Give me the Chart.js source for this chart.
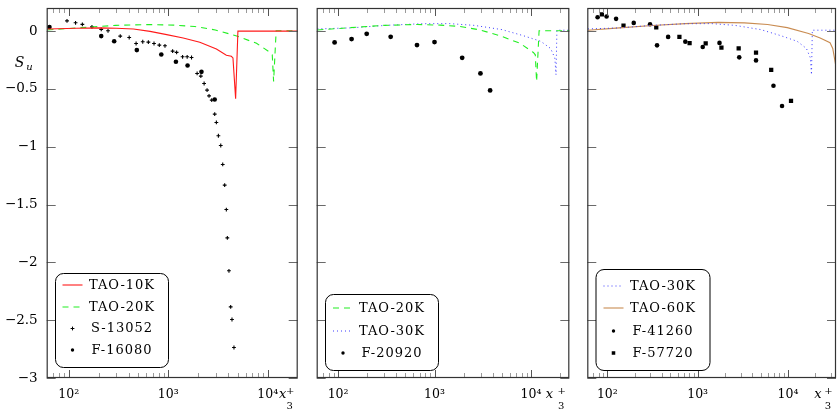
<!DOCTYPE html>
<html><head><meta charset="utf-8">
<script src="https://cdn.jsdelivr.net/npm/chart.js@4/dist/chart.umd.min.js"></script>
<style>
html,body{margin:0;padding:0;background:#fff;}
#wrap{position:relative;width:840px;height:413px;overflow:hidden;background:#fff;}
canvas{position:absolute;left:0;top:0;}
</style></head><body>
<div id="wrap">
<canvas id="c1" width="840" height="413"></canvas>
<canvas id="c2" width="840" height="413"></canvas>
<canvas id="c3" width="840" height="413"></canvas>
</div>
<script>
// ---------- tick labels ----------
const yTickValues = [-3, -2.5, -2, -1.5, -1, -0.5, 0];
const yTickLabels = ['\u22123', '\u22122.5', '\u22122', '\u22121.5', '\u22121', '\u22120.5', '0'];
const xTickValues = [100, 1000, 10000];
const xTickLabels = ['10\u00B2', '10\u00B3', '10\u2074'];

// ---------- series ----------
const tao10kX = [61, 120, 207, 300, 447, 656, 964, 1413, 2075, 3048, 3837, 4305, 4470, 4755, 5012, 20000];
const tao10kY = [0.019, 0.025, 0.028, 0.025, 0.019, -0.002, -0.03, -0.059, -0.097, -0.154, -0.209, -0.218, -0.232, -0.584, 0, 0];

const tao20kX = [61, 134, 297, 658, 1146, 1846, 2972, 4786, 7710, 10600, 11100, 11450, 12150, 35000];
const tao20kY = [0.01, 0.03, 0.05, 0.057, 0.052, 0.04, 0.01, -0.04, -0.105, -0.185, -0.205, -0.435, 0.003, 0.003];

const tao30kX = [61, 136, 315, 730, 1425, 2570, 5010, 8300, 12640, 16000, 17700, 18200, 18600, 35000];
const tao30kY = [0.019, 0.028, 0.05, 0.064, 0.065, 0.05, 0.013, -0.039, -0.088, -0.15, -0.232, -0.377, 0.008, 0.008];

const tao60kX = [61, 136, 315, 730, 1687, 3305, 5945, 9820, 16900, 22700, 29200, 31300, 34000];
const tao60kY = [0.007, 0.028, 0.048, 0.065, 0.076, 0.071, 0.057, 0.03, -0.02, -0.06, -0.1, -0.15, -0.31];

const s13052X = [96, 117, 137, 171, 212, 248, 329, 405, 475, 554, 631, 719, 813, 927, 1106, 1213, 1393, 1549, 1713, 1950, 2125, 2293, 2455, 2570, 2735, 2930, 3045, 3190, 3370, 3527, 3690, 3835, 3925, 4075, 4240, 4370, 4575];
const s13052Y = [0.089, 0.072, 0.058, 0.037, 0.015, 0.003, -0.043, -0.055, -0.107, -0.092, -0.095, -0.107, -0.121, -0.127, -0.173, -0.184, -0.222, -0.222, -0.228, -0.366, -0.389, -0.453, -0.51, -0.56, -0.597, -0.718, -0.79, -0.905, -0.989, -1.153, -1.332, -1.543, -1.788, -2.073, -2.385, -2.494, -2.736];

const f16080X = [64, 212, 286, 483, 851, 1194, 1563, 2157, 2930];
const f16080Y = [0.036, -0.043, -0.087, -0.164, -0.202, -0.265, -0.297, -0.352, -0.591];

const f20920X = [92, 138, 198, 351, 658, 1000, 1936, 2995, 3773];
const f20920Y = [-0.098, -0.069, -0.023, -0.049, -0.121, -0.095, -0.231, -0.366, -0.513];

const f41260X = [78, 98, 125, 196, 297, 355, 471, 730, 1138, 1745, 2886, 4426, 6905, 8590];
const f41260Y = [0.12, 0.126, 0.106, 0.071, 0.059, -0.123, -0.05, -0.091, -0.137, -0.102, -0.227, -0.253, -0.472, -0.648];

const f57720X = [87, 151, 348, 628, 814, 1227, 1833, 2844, 4426, 6518, 10800];
const f57720Y = [0.145, 0.048, 0.033, -0.05, -0.103, -0.106, -0.143, -0.149, -0.186, -0.336, -0.604];

// ---------- helpers ----------
function pts(xs, ys) { return xs.map((x, i) => ({x: x, y: ys[i]})); }

const SERIF = '"DejaVu Serif", serif';

function lineDs(label, xs, ys, color, dash, width) {
  return {label: label, data: pts(xs, ys), showLine: true, borderColor: color, backgroundColor: color,
    borderWidth: width, borderDash: dash, pointRadius: 0, pointHoverRadius: 0, tension: 0, fill: false};
}
function markDs(label, xs, ys, style, radius, legendRadius) {
  return {label: label, data: pts(xs, ys), showLine: false, pointStyle: style, pointRadius: radius,
    backgroundColor: '#000', borderColor: '#000', borderWidth: style === 'cross' ? 1.1 : 0,
    legendRadius: legendRadius};
}

const C_RED = '#ff1a1a', C_GREEN = '#22ee22', C_BLUE = '#3a3aff', C_BROWN = '#c98c52';

const framePlugin = {
  id: 'panelFrame',
  afterDatasetsDraw(chart, args, o) {
    const ctx = chart.ctx, a = chart.chartArea, x = chart.scales.x, y = chart.scales.y;
    ctx.save();
    // y ticks (inward, both sides)
    ctx.lineWidth = 1;
    ctx.strokeStyle = '#6a6a6a';
    ctx.beginPath();
    yTickValues.forEach(v => {
      const py = Math.round(y.getPixelForValue(v)) + 0.5;
      ctx.moveTo(a.left, py); ctx.lineTo(a.left + 9, py);
      ctx.moveTo(a.right, py); ctx.lineTo(a.right - 9, py);
    });
    ctx.stroke();
    // x minor ticks
    ctx.strokeStyle = '#9a9a9a';
    ctx.beginPath();
    [10, 100, 1000, 10000].forEach(d => {
      for (let m = 2; m <= 9; m++) {
        const v = m * d;
        if (v <= x.min || v >= x.max) continue;
        const px = Math.round(x.getPixelForValue(v)) + 0.5;
        ctx.moveTo(px, a.bottom); ctx.lineTo(px, a.bottom - 5);
        ctx.moveTo(px, a.top); ctx.lineTo(px, a.top + 5);
      }
    });
    ctx.stroke();
    // x major ticks
    ctx.strokeStyle = '#555';
    ctx.beginPath();
    xTickValues.forEach(v => {
      if (v <= x.min || v >= x.max) return;
      const px = Math.round(x.getPixelForValue(v)) + 0.5;
      ctx.moveTo(px, a.bottom); ctx.lineTo(px, a.bottom - 8);
      ctx.moveTo(px, a.top); ctx.lineTo(px, a.top + 8);
    });
    ctx.stroke();
    // frame
    ctx.strokeStyle = '#333';
    ctx.lineWidth = 1.2;
    ctx.strokeRect(a.left + 0.5, a.top + 0.5, a.right - a.left - 1, a.bottom - a.top - 1);

    // axis titles
    ctx.fillStyle = '#000';
    ctx.textAlign = 'center';
    ctx.textBaseline = 'middle';
    ctx.font = 'italic 13px ' + SERIF;
    ctx.fillText('x', a.right - o.xTitleOff, 395);
    ctx.font = '10px ' + SERIF;
    ctx.fillText('+', a.right - 7.5, 391);
    ctx.fillText('3', a.right - 8, 406);
    if (o.yTitle) {
      ctx.font = 'italic 14px ' + SERIF;
      ctx.fillText('S', 19.5, 63);
      ctx.font = 'italic 10px ' + SERIF;
      ctx.fillText('u', 29.5, 67);
    }

    // legend
    const L = o.legend;
    ctx.beginPath();
    ctx.roundRect(L.x + 0.5, L.y + 0.5, L.w, L.h, 8);
    ctx.fillStyle = '#fff';
    ctx.fill();
    ctx.strokeStyle = '#000';
    ctx.lineWidth = 1;
    ctx.stroke();
    chart.data.datasets.forEach((ds, i) => {
      const ry = L.rows[i];
      if (ds.showLine) {
        ctx.save();
        ctx.strokeStyle = ds.borderColor;
        ctx.lineWidth = ds.borderWidth;
        ctx.setLineDash(ds.borderDash || []);
        ctx.beginPath();
        ctx.moveTo(L.sx0, ry); ctx.lineTo(L.sx1, ry);
        ctx.stroke();
        ctx.restore();
      } else {
        ctx.save();
        ctx.fillStyle = '#000';
        ctx.strokeStyle = '#000';
        Chart.helpers.drawPoint(ctx, {pointStyle: ds.pointStyle, radius: ds.legendRadius,
          borderWidth: ds.borderWidth, rotation: 0}, (L.sx0 + L.sx1) / 2, ry);
        ctx.restore();
      }
      ctx.save();
      ctx.fillStyle = '#000';
      ctx.font = '13px ' + SERIF;
      if ('letterSpacing' in ctx) ctx.letterSpacing = '1px';
      ctx.textAlign = 'center';
      ctx.textBaseline = 'middle';
      ctx.fillText(ds.label, L.tx, ry + 0.5);
      ctx.restore();
    });
    ctx.restore();
  }
};

function makeChart(id, datasets, xmax, left, right, showY, xTitleOff, legend) {
  return new Chart(document.getElementById(id), {
    type: 'scatter',
    data: {datasets: datasets},
    plugins: [framePlugin],
    options: {
      responsive: false,
      animation: false,
      events: [],
      layout: {padding: {left: showY ? 0 : left, right: 840 - right, top: 8, bottom: 0}},
      plugins: {
        legend: {display: false},
        tooltip: {enabled: false},
        panelFrame: {legend: legend, yTitle: showY, xTitleOff: xTitleOff}
      },
      scales: {
        x: {
          type: 'logarithmic', min: 60, max: xmax,
          grid: {display: false, drawTicks: false},
          border: {display: false},
          afterBuildTicks: s => { s.ticks = xTickValues.map(v => ({value: v})); },
          afterFit: s => { s.height = 35; s.paddingLeft = 0; s.paddingRight = 0; },
          ticks: {
            autoSkip: false, maxRotation: 0, padding: 9, color: '#000',
            font: {family: SERIF, size: 12.5},
            callback: (v, i) => xTickLabels[i]
          }
        },
        y: {
          type: 'linear', min: -3, max: 0.2,
          grid: {display: false, drawTicks: false},
          border: {display: false},
          afterBuildTicks: s => { s.ticks = yTickValues.map(v => ({value: v})); },
          afterFit: s => { s.width = showY ? left : 0; s.paddingTop = 0; s.paddingBottom = 0; },
          ticks: {
            display: showY, autoSkip: false, padding: 9, color: '#000',
            font: {family: SERIF, size: 13.5},
            callback: (v, i) => yTickLabels[i]
          }
        }
      }
    }
  });
}

makeChart('c1', [
  lineDs('TAO-10K', tao10kX, tao10kY, C_RED, [], 1.1),
  lineDs('TAO-20K', tao20kX, tao20kY, C_GREEN, [6, 5], 1.1),
  markDs('S-13052', s13052X, s13052Y, 'cross', 1.9, 1.9),
  markDs('F-16080', f16080X, f16080Y, 'circle', 2.3, 1.7)
], 20000, 46.7, 297.7, true, 15,
  {x: 55, y: 273, w: 113, h: 94, rows: [285, 307, 328.5, 350], sx0: 62.5, sx1: 82.5, tx: 122});

makeChart('c2', [
  lineDs('TAO-20K', tao20kX, tao20kY, C_GREEN, [6, 5], 1.1),
  lineDs('TAO-30K', tao30kX, tao30kY, C_BLUE, [1, 3], 1),
  markDs('F-20920', f20920X, f20920Y, 'circle', 2.4, 1.7)
], 25000, 316.7, 569.3, false, 20,
  {x: 325, y: 294, w: 113, h: 76, rows: [308, 331, 353], sx0: 333, sx1: 353, tx: 392});

makeChart('c3', [
  lineDs('TAO-30K', tao30kX, tao30kY, C_BLUE, [1, 3], 1),
  lineDs('TAO-60K', tao60kX, tao60kY, C_BROWN, [], 1.1),
  markDs('F-41260', f41260X, f41260Y, 'circle', 2.3, 1.7),
  markDs('F-57720', f57720X, f57720Y, 'rect', 3, 2.5)
], 34000, 587.3, 839.3, false, 18,
  {x: 595.5, y: 269, w: 114, h: 101, rows: [286, 308, 331, 353], sx0: 603.5, sx1: 623.5, tx: 663});
</script>
</body></html>
